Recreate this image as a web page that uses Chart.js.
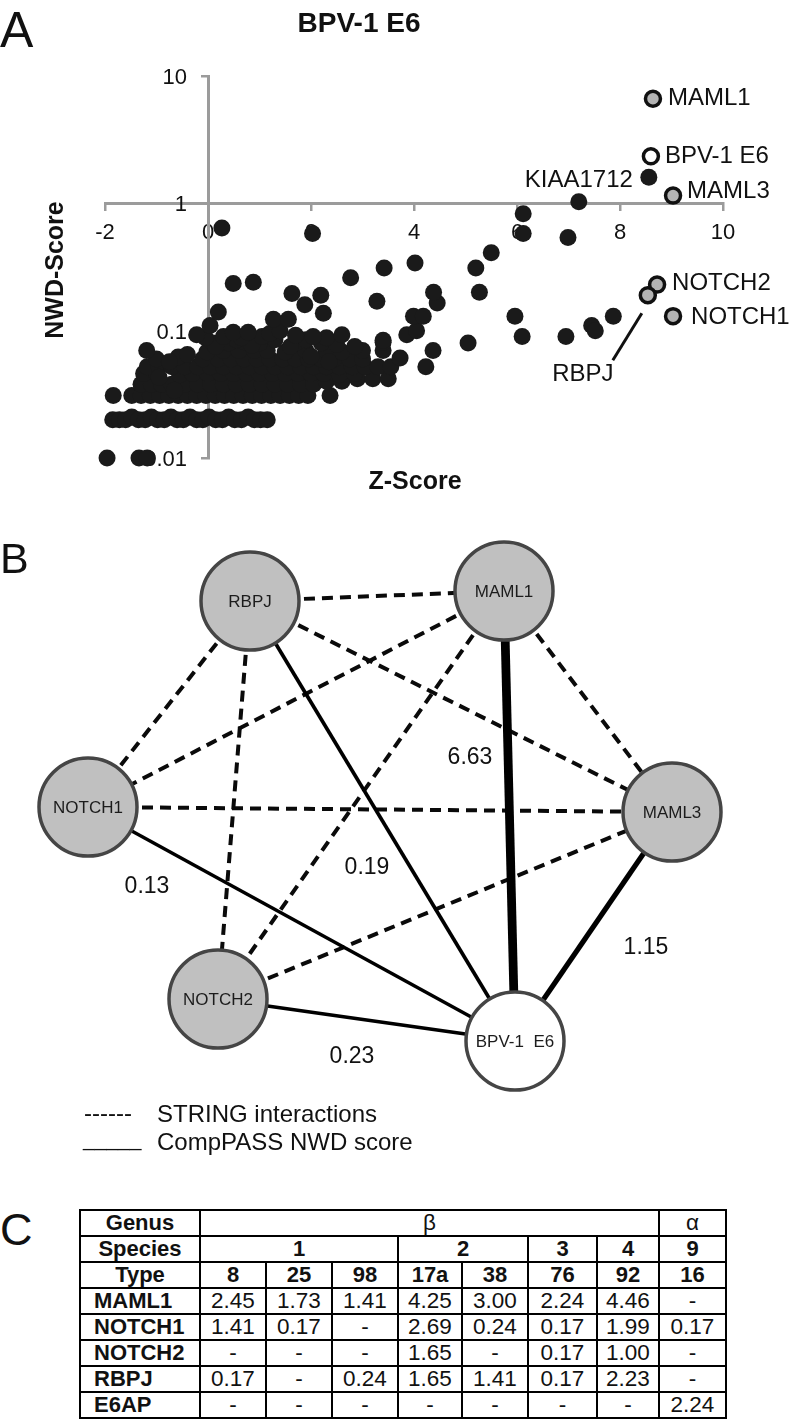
<!DOCTYPE html>
<html><head><meta charset="utf-8">
<script src="https://cdn.jsdelivr.net/npm/chart.js@4.4.1/dist/chart.umd.min.js"></script>
<style>
html,body{margin:0;padding:0;background:#fff;}
body{width:799px;height:1424px;position:relative;overflow:hidden;font-family:"Liberation Sans",Arial,sans-serif;color:#111;}
#cA{position:absolute;left:0;top:0;}
#cB{position:absolute;left:0;top:500px;}
.letter{position:absolute;left:0;line-height:1;font-weight:normal;color:#111;}
#tbl{position:absolute;left:79px;top:1209px;border-collapse:collapse;table-layout:fixed;}
#tbl td{border:2.5px solid #000;height:24px;padding:0;text-align:center;font-size:22.5px;line-height:22px;color:#111;white-space:nowrap;overflow:hidden;}
#tbl td.b{font-weight:bold;font-size:22px;}
#tbl td.name{text-align:left;padding-left:13px;font-weight:bold;font-size:22px;}
</style>
</head><body>
<canvas id="cA" width="799" height="500"></canvas>
<canvas id="cB" width="799" height="680"></canvas>
<div class="letter" style="top:5px;font-size:50px;">A</div>
<div class="letter" style="top:537px;font-size:43px;">B</div>
<div class="letter" style="top:1207px;font-size:45px;">C</div>
<table id="tbl"></table>
<script>
// ---------------- Panel A data ----------------
const xTicks = [-2, 0, 2, 4, 6, 8, 10];
const yTicks = [0.01, 0.1, 1, 10];
const hitNames = ['MAML1', 'BPV-1 E6', 'KIAA1712', 'MAML3', 'NOTCH2', 'RBPJ', 'NOTCH1'];
const hitZ     = [8.64, 8.60, 8.56, 9.03, 8.72, 8.54, 9.03];
const hitNwd   = [6.63, 2.34, 1.60, 1.15, 0.23, 0.19, 0.13];
const hitKind  = ['pathway', 'bait', 'other', 'pathway', 'pathway', 'pathway', 'pathway'];
// other interacting proteins: [Z-score, NWD-score]
const otherPreys = [
  [-1.96,0.01],[-1.34,0.01],[-1.18,0.01],
  [-1.85,0.02],[-1.72,0.02],[-1.6,0.02],[-1.48,0.021],[-1.35,0.02],[-1.22,0.02],[-1.1,0.021],[-0.98,0.02],[-0.85,0.02],
  [-0.72,0.021],[-0.6,0.02],[-0.48,0.02],[-0.35,0.021],[-0.22,0.02],[-0.1,0.02],[0.02,0.021],[0.15,0.02],[0.28,0.02],
  [0.4,0.021],[0.52,0.02],[0.65,0.02],[0.78,0.021],[0.9,0.02],[1.02,0.02],[1.15,0.02],
  [-1.84,0.031],[-1.48,0.031],[-1.3,0.031],[-1.12,0.031],[-0.94,0.031],[-0.76,0.031],[-0.58,0.031],[-0.4,0.031],
  [-0.22,0.031],[-0.04,0.031],[0.14,0.031],[0.32,0.031],[0.5,0.031],[0.68,0.031],[0.86,0.031],[1.04,0.031],
  [1.22,0.031],[1.4,0.031],[1.58,0.031],[1.76,0.031],[1.94,0.031],[2.37,0.031],
  [-1.3,0.038],[-1.1,0.038],[-0.9,0.038],[-0.7,0.038],[-0.45,0.038],[-0.2,0.038],[0.05,0.038],[0.3,0.038],
  [0.55,0.038],[0.8,0.038],[1.05,0.038],[1.3,0.038],[1.55,0.038],[1.8,0.038],[2.05,0.038],[2.3,0.04],
  [2.6,0.04],[2.9,0.042],[3.2,0.042],[3.5,0.042],
  [-1.25,0.046],[-1.0,0.046],[-0.55,0.045],[-0.3,0.046],[0.0,0.046],[0.25,0.046],[0.5,0.046],[0.75,0.046],
  [1.0,0.046],[1.25,0.046],[1.5,0.046],[1.75,0.046],[2.0,0.046],[2.25,0.046],[2.55,0.045],[2.85,0.046],
  [-1.18,0.052],[-0.95,0.052],[-0.7,0.052],[-0.45,0.052],[-0.2,0.052],[0.05,0.052],[0.3,0.052],[0.55,0.052],
  [0.8,0.052],[1.05,0.052],[1.3,0.052],[1.55,0.052],[1.8,0.052],[2.05,0.052],[2.3,0.052],[2.55,0.052],
  [2.8,0.052],[3.05,0.052],[3.3,0.052],[3.55,0.052],[4.23,0.052],
  [-1.0,0.06],[-0.58,0.062],[-0.1,0.06],[0.2,0.06],[0.45,0.06],[0.7,0.06],[0.95,0.06],[1.2,0.06],
  [1.45,0.06],[1.7,0.06],[1.95,0.06],[2.2,0.06],[2.45,0.06],[2.75,0.06],[3.0,0.06],[3.73,0.061],
  [-1.19,0.07],[-0.02,0.068],[0.3,0.07],[0.6,0.07],[0.9,0.07],[1.15,0.07],[1.5,0.068],[1.9,0.07],
  [2.3,0.07],[2.6,0.068],[3.0,0.07],[3.4,0.07],[4.37,0.07],
  [0.1,0.08],[0.4,0.08],[0.7,0.082],[1.0,0.08],[1.7,0.08],[2.2,0.08],[2.5,0.078],[3.4,0.081],[5.05,0.08],
  [-0.4,0.065],[0.15,0.075],[0.55,0.085],[0.85,0.077],[1.3,0.085],[1.9,0.085],[2.0,0.063],[2.35,0.057],
  [1.6,0.075],[-0.75,0.057],[-0.95,0.043],[-0.65,0.034],
  [0.3,0.09],[0.65,0.088],[1.05,0.09],[1.7,0.092],[2.3,0.088],[-0.05,0.088],[1.2,0.095],[2.85,0.075],
  [-0.22,0.093],[0.49,0.097],[0.78,0.097],[1.4,0.1],[2.04,0.09],[2.6,0.093],[3.4,0.084],[3.86,0.093],
  [4.05,0.1],[6.1,0.09],[6.95,0.09],
  [0.04,0.11],[0.2,0.14],[1.27,0.123],[1.56,0.123],[7.45,0.11],[7.52,0.10],[7.87,0.13],[5.96,0.13],
  [3.99,0.13],[4.18,0.13],[2.24,0.137],[1.88,0.16],[3.28,0.17],[4.45,0.165],[4.38,0.2],[5.27,0.2],
  [2.19,0.19],[1.63,0.196],[0.49,0.235],[0.88,0.24],[2.77,0.26],[3.42,0.31],[5.2,0.31],[4.02,0.34],
  [5.5,0.41],[6.99,0.54],[2.03,0.58],[0.27,0.64],[6.12,0.58],[6.12,0.83],[7.2,1.03]
];

// ---------------- Panel B data ----------------
const baitName = 'BPV-1  E6';
const nodeNames = ['RBPJ', 'MAML1', 'NOTCH1', 'MAML3', 'NOTCH2', 'BPV-1  E6'];
// layout positions of the network nodes
const nodeX = [250, 504, 88, 672, 218, 515];
const nodeY = [601, 591, 807, 812, 999, 1041];
const stringEdges = [
  ['RBPJ','MAML1'],['RBPJ','NOTCH1'],['RBPJ','NOTCH2'],['RBPJ','MAML3'],
  ['MAML1','NOTCH1'],['MAML1','NOTCH2'],['MAML1','MAML3'],
  ['NOTCH1','MAML3'],['NOTCH2','MAML3']
];
const compassTargets = ['MAML1', 'MAML3', 'RBPJ', 'NOTCH2', 'NOTCH1'];
const compassNwd     = [6.63, 1.15, 0.19, 0.23, 0.13];
// layout positions of the score labels
const scoreLabelX = [470, 646, 367, 352, 147];
const scoreLabelY = [758, 948, 868, 1057, 887];

// ---------------- Panel C data ----------------
const genusGroups = [['β', 7], ['α', 1]];
const speciesGroups = [['1', 3], ['2', 2], ['3', 1], ['4', 1], ['9', 1]];
const typeLabels = ['8', '25', '98', '17a', '38', '76', '92', '16'];
const tableProteins = ['MAML1', 'NOTCH1', 'NOTCH2', 'RBPJ', 'E6AP'];
const maml1Row  = [2.45, 1.73, 1.41, 4.25, 3.00, 2.24, 4.46, null];
const notch1Row = [1.41, 0.17, null, 2.69, 0.24, 0.17, 1.99, 0.17];
const notch2Row = [null, null, null, 1.65, null, 0.17, 1.00, null];
const rbpjRow   = [0.17, null, 0.24, 1.65, 1.41, 0.17, 2.23, null];
const e6apRow   = [null, null, null, null, null, null, null, 2.24];

// ---------------- styles ----------------
const FONT = '"Liberation Sans", Arial, sans-serif';
const AXIS_GREY = '#9b9b9b';
const hitLabelStyle = {
  'MAML1':    {dx: 15,  dy: 0,  align: 'left'},
  'BPV-1 E6': {dx: 14,  dy: 0,  align: 'left'},
  'KIAA1712': {dx: -16, dy: 3,  align: 'right'},
  'MAML3':    {dx: 14,  dy: -4, align: 'left'},
  'NOTCH2':   {dx: 15,  dy: -1, align: 'left'},
  'NOTCH1':   {dx: 18,  dy: 1,  align: 'left'},
  'RBPJ':     {dx: -65, dy: 79, align: 'center', leader: [-6, 18, -35, 65]}
};

// ---------------- Panel A chart ----------------
const panelAText = {
  id: 'panelAText',
  beforeDatasetsDraw(chart) {
    // y tick labels, placed left of the y axis at the scale's tick positions
    const {ctx} = chart;
    const xs = chart.scales.x, ys = chart.scales.y;
    const axisX = xs.getPixelForValue(0);
    ctx.save();
    ctx.fillStyle = '#111';
    ctx.font = '22px ' + FONT;
    ctx.textAlign = 'right'; ctx.textBaseline = 'middle';
    ys.ticks.forEach(t => ctx.fillText(String(t.value), axisX - 21, ys.getPixelForValue(t.value) + 2));
    ctx.restore();
  },
  afterDatasetsDraw(chart) {
    const {ctx} = chart;
    const xs = chart.scales.x, ys = chart.scales.y;
    ctx.save();
    ctx.fillStyle = '#111';
    ctx.textBaseline = 'middle';
    ctx.font = '24px ' + FONT;
    hitNames.forEach((n, i) => {
      const st = hitLabelStyle[n];
      const px = xs.getPixelForValue(hitZ[i]);
      const py = ys.getPixelForValue(hitNwd[i]);
      if (st.leader) {
        ctx.beginPath();
        ctx.moveTo(px + st.leader[0], py + st.leader[1]);
        ctx.lineTo(px + st.leader[2], py + st.leader[3]);
        ctx.lineWidth = 3; ctx.strokeStyle = '#111'; ctx.stroke();
      }
      ctx.textAlign = st.align;
      ctx.fillText(n, px + st.dx, py + st.dy);
    });
    ctx.textAlign = 'center';
    ctx.font = 'bold 28px ' + FONT;
    ctx.fillText('BPV-1 E6', 359, 24);
    ctx.font = 'bold 25px ' + FONT;
    ctx.fillText('Z-Score', 415, 482);
    ctx.translate(56, 270);
    ctx.rotate(-Math.PI / 2);
    ctx.fillText('NWD-Score', 0, 0);
    ctx.restore();
  }
};

new Chart(document.getElementById('cA'), {
  type: 'scatter',
  data: {
    datasets: [
      {
        label: 'Highlighted',
        data: hitZ.map((z, i) => ({x: z, y: hitNwd[i]})),
        pointRadius: hitKind.map(k => k === 'other' ? 8.5 : 7.5),
        pointBorderWidth: hitKind.map(k => k === 'other' ? 0 : 3.5),
        pointBackgroundColor: hitKind.map(k => k === 'bait' ? '#ffffff' : (k === 'pathway' ? '#b4b4b4' : '#1a1a1a')),
        pointBorderColor: '#111',
        clip: false,
        order: 0
      },
      {
        label: 'Other preys',
        data: otherPreys.map(p => ({x: p[0], y: p[1]})),
        pointRadius: 8.5,
        pointBorderWidth: 0,
        pointBackgroundColor: '#1a1a1a',
        clip: false,
        order: 1
      }
    ]
  },
  options: {
    responsive: false, animation: false, events: [],
    layout: {padding: {left: 105, right: 76, top: 76, bottom: 42}, autoPadding: false},
    plugins: {legend: {display: false}, tooltip: {enabled: false}, title: {display: false}},
    scales: {
      x: {
        type: 'linear', min: -2, max: 10, position: {y: 1},
        afterBuildTicks: s => { s.ticks = xTicks.map(v => ({value: v})); },
        ticks: {font: {family: FONT, size: 22}, color: '#111', padding: 10, maxRotation: 0},
        grid: {drawOnChartArea: false, drawTicks: true, tickLength: 6, color: AXIS_GREY, lineWidth: 2.5},
        border: {display: true, color: AXIS_GREY, width: 3}
      },
      y: {
        type: 'logarithmic', min: 0.01, max: 10, position: {x: 0},
        afterBuildTicks: s => { s.ticks = yTicks.map(v => ({value: v, major: true})); },
        ticks: {display: false},
        grid: {drawOnChartArea: false, drawTicks: true, tickLength: 6, color: AXIS_GREY, lineWidth: 2.5},
        border: {display: true, color: AXIS_GREY, width: 3}
      }
    }
  },
  plugins: [panelAText]
});

// ---------------- Panel B chart ----------------
const nodePoint = n => { const i = nodeNames.indexOf(n); return {x: nodeX[i], y: nodeY[i]}; };
const panelBText = {
  id: 'panelBText',
  afterDatasetsDraw(chart) {
    const {ctx} = chart;
    const xs = chart.scales.x, ys = chart.scales.y;
    ctx.save();
    ctx.fillStyle = '#1c1c1c';
    ctx.textAlign = 'center'; ctx.textBaseline = 'middle';
    ctx.font = '17px ' + FONT;
    nodeNames.forEach((n, i) => ctx.fillText(n, xs.getPixelForValue(nodeX[i]), ys.getPixelForValue(nodeY[i]) + 1));
    ctx.fillStyle = '#111';
    ctx.font = '23px ' + FONT;
    compassNwd.forEach((s, i) => ctx.fillText(s.toFixed(2), xs.getPixelForValue(scoreLabelX[i]), ys.getPixelForValue(scoreLabelY[i])));
    ctx.textAlign = 'left';
    ctx.font = '24px ' + FONT;
    ctx.fillText('------', xs.getPixelForValue(84), ys.getPixelForValue(1114));
    ctx.fillText('STRING interactions', xs.getPixelForValue(157), ys.getPixelForValue(1115));
    ctx.fillText('CompPASS NWD score', xs.getPixelForValue(157), ys.getPixelForValue(1143));
    ctx.font = '21px ' + FONT;
    ctx.fillText('_____', xs.getPixelForValue(83), ys.getPixelForValue(1140));
    ctx.restore();
  }
};

const edgeWidth = s => 2.6 + 2.4 * Math.sqrt(s);
new Chart(document.getElementById('cB'), {
  type: 'scatter',
  data: {
    datasets: [
      {
        label: 'Proteins',
        data: nodeNames.map((n, i) => ({x: nodeX[i], y: nodeY[i]})),
        pointRadius: 49,
        pointBorderWidth: 3.5,
        pointBorderColor: '#454545',
        pointBackgroundColor: nodeNames.map(n => n === baitName ? '#ffffff' : '#c0c0c0'),
        clip: false,
        order: 0
      },
      ...compassTargets.map((t, i) => ({
        type: 'line', label: 'CompPASS ' + t,
        data: [nodePoint(baitName), nodePoint(t)],
        borderColor: '#000', borderWidth: edgeWidth(compassNwd[i]),
        pointRadius: 0, fill: false, clip: false, order: 1
      })),
      ...stringEdges.map(([a, b]) => ({
        type: 'line', label: 'STRING ' + a + '-' + b,
        data: [nodePoint(a), nodePoint(b)],
        borderColor: '#0a0a0a', borderWidth: 4, borderDash: [11, 7],
        pointRadius: 0, fill: false, clip: false, order: 2
      }))
    ]
  },
  options: {
    responsive: false, animation: false, events: [],
    layout: {padding: 0, autoPadding: false},
    plugins: {legend: {display: false}, tooltip: {enabled: false}},
    scales: {
      x: {type: 'linear', min: 0, max: 799, display: false},
      y: {type: 'linear', min: 500, max: 1180, reverse: true, display: false}
    }
  },
  plugins: [panelBText]
});

// ---------------- Panel C table ----------------
const colWidths = [120, 66, 66, 66, 64, 66, 69, 62, 67];
const tbl = document.getElementById('tbl');
const cg = document.createElement('colgroup');
colWidths.forEach(w => { const c = document.createElement('col'); c.style.width = w + 'px'; cg.appendChild(c); });
tbl.appendChild(cg);
function addRow(cells) {
  const tr = document.createElement('tr');
  cells.forEach(c => {
    const td = document.createElement('td');
    td.textContent = c.text;
    if (c.cls) td.className = c.cls;
    if (c.span) td.colSpan = c.span;
    tr.appendChild(td);
  });
  tbl.appendChild(tr);
}
addRow([{text: 'Genus', cls: 'b'}].concat(genusGroups.map(g => ({text: g[0], span: g[1]}))));
addRow([{text: 'Species', cls: 'b'}].concat(speciesGroups.map(g => ({text: g[0], span: g[1], cls: 'b'}))));
addRow([{text: 'Type', cls: 'b'}].concat(typeLabels.map(t => ({text: t, cls: 'b'}))));
[maml1Row, notch1Row, notch2Row, rbpjRow, e6apRow].forEach((row, r) => {
  addRow([{text: tableProteins[r], cls: 'name'}].concat(row.map(v => ({text: v === null ? '-' : v.toFixed(2)}))));
});
</script>
</body></html>
